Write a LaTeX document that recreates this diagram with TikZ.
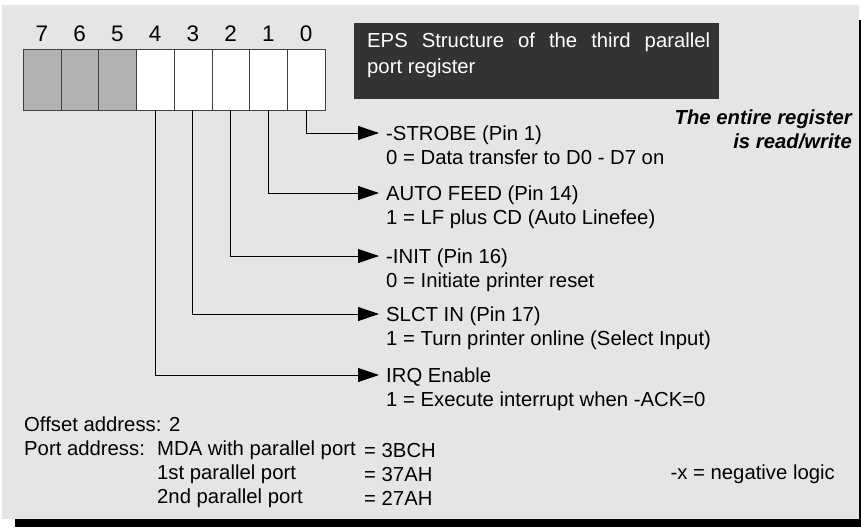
\documentclass[tikz,border=0pt]{standalone}
\usepackage{fontspec}
\setmainfont{Liberation Sans}
\usepackage{tikz}
\usetikzlibrary{arrows.meta, positioning}

\begin{document}
\begin{tikzpicture}[x=1pt, y=-1pt, >={Triangle[length=21pt, width=14pt]},
        font=\fontsize{20.3}{24}\selectfont,
        bitcell/.style={draw=black!75, fill=white, minimum width=37.75pt, minimum height=61pt, inner sep=0pt, outer sep=0pt},
        unused/.style={fill=black!30},
        bitnum/.style={inner sep=0pt, font=\fontsize{22.5}{24}\selectfont},
        sigtitle/.style={anchor=west, inner xsep=7pt, inner ysep=0pt, text height=14.4pt, text depth=0pt},
        sigdesc/.style={anchor=base west, inner xsep=7pt, inner ysep=0pt},
        plain/.style={anchor=base west, inner sep=0pt},
        wire/.style={->, line width=1pt}]
        % frame and shadow
        \useasboundingbox (0,0) rectangle (861,527);
        \fill[black] (15,20) rectangle (861,527);
        \fill[black!10] (2,5) rectangle (859,519);

        % register bits 7..0
        \node[bitcell, unused, anchor=north west] (b7) at (23,49) {};
        \node[bitcell, unused, right=0pt of b7] (b6) {};
        \node[bitcell, unused, right=0pt of b6] (b5) {};
        \foreach \b/\p in {4/5, 3/4, 2/3, 1/2, 0/1}
            \node[bitcell, right=0pt of b\p] (b\b) {};
        \foreach \b in {0,...,7}
            \node[bitnum, above=7pt of b\b] (n\b) {\b};

        % title
        \node[fill=black!80, minimum width=365pt, minimum height=76pt, anchor=north west, inner sep=0pt] (epsbox) at (354,23) {};
        \node[anchor=north west, inner sep=0pt, text width=343pt, align=justify, text=white, font=\fontsize{20.3}{26}\selectfont] (epstext)
            at ([shift={(13pt,-10pt)}]epsbox.north west) {EPS Structure of the third parallel\linebreak port register};
        \node[anchor=north east, align=right, inner sep=0pt, font=\fontsize{20.3}{23.5}\selectfont\bfseries\itshape] (rwnote)
            at (852,110) {The entire register\\is read/write};

        % signals
        \node[sigtitle] (strobe) at (379,133) {-STROBE (Pin 1)};
        \node[sigdesc] (strobedesc) at ([yshift=-24pt]strobe.base west) {0 = Data transfer to D0 - D7 on};
        \node[sigtitle] (autofeed) at (379,193) {AUTO FEED (Pin 14)};
        \node[sigdesc] (autofeeddesc) at ([yshift=-24pt]autofeed.base west) {1 = LF plus CD (Auto Linefee)};
        \node[sigtitle] (init) at (379,256) {-INIT (Pin 16)};
        \node[sigdesc] (initdesc) at ([yshift=-24pt]init.base west) {0 = Initiate printer reset};
        \node[sigtitle] (slctin) at (379,314) {SLCT IN (Pin 17)};
        \node[sigdesc] (slctindesc) at ([yshift=-24pt]slctin.base west) {1 = Turn printer online (Select Input)};
        \node[sigtitle] (irq) at (379,375) {IRQ Enable};
        \node[sigdesc] (irqdesc) at ([yshift=-24pt]irq.base west) {1 = Execute interrupt when -ACK=0};

        \draw[wire] (b0.south) |- (strobe.west);
        \draw[wire] (b1.south) |- (autofeed.west);
        \draw[wire] (b2.south) |- (init.west);
        \draw[wire] (b3.south) |- (slctin.west);
        \draw[wire] (b4.south) |- (irq.west);

        % addresses
        \node[plain] (offset) at (24,431) {Offset address: 2};
        \node[plain] (portaddr) at (24,455) {Port address:};
        \node[plain] (mda) at (157,455) {MDA with parallel port};
        \node[plain] (mdaval) at (364,457) {= 3BCH};
        \node[plain] (lpt1) at (157,479) {1st parallel port};
        \node[plain] (lpt1val) at (364,481) {= 37AH};
        \node[plain] (lpt2) at (157,503) {2nd parallel port};
        \node[plain] (lpt2val) at (364,505) {= 27AH};
        \node[plain, anchor=base east] (neglogic) at (835,479) {-x = negative logic};
    \end{tikzpicture}
\end{document}
